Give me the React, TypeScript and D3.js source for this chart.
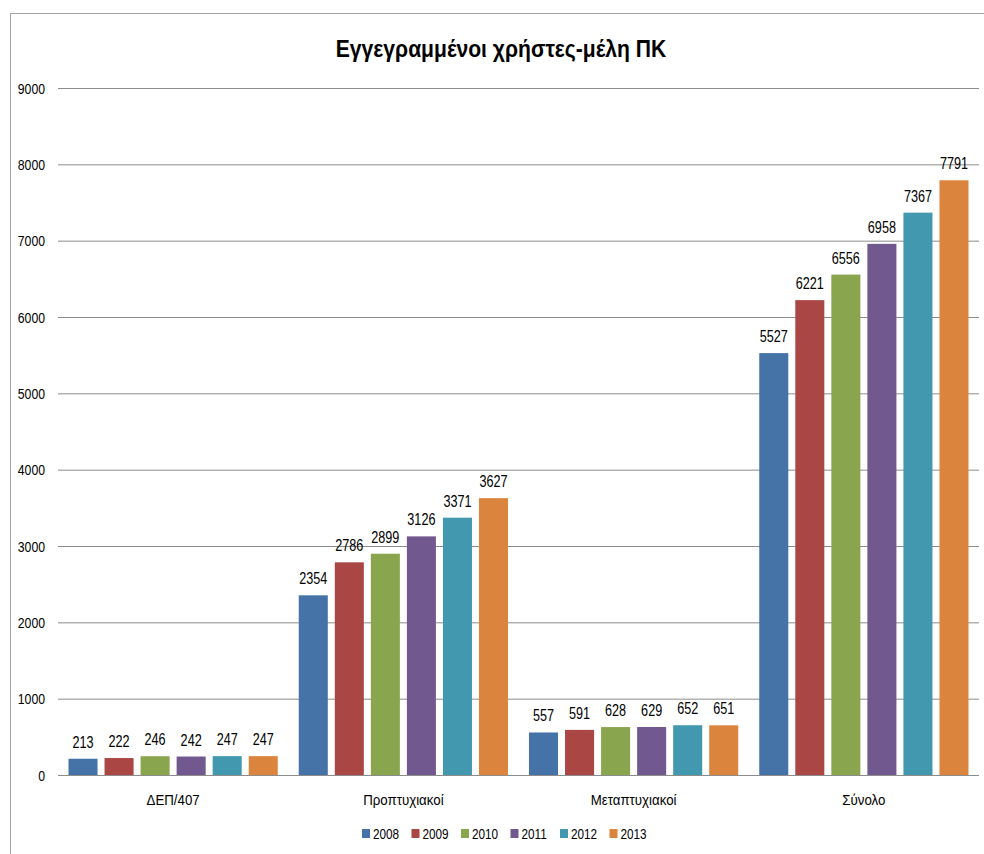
import React from "react";
import * as d3 from "d3";

const categories = ["ΔΕΠ/407", "Προπτυχιακοί", "Μεταπτυχιακοί", "Σύνολο"];
const years = ["2008", "2009", "2010", "2011", "2012", "2013"];
const colors = ["#4572A7", "#AA4643", "#89A54E", "#71588F", "#4198AF", "#DB843D"];
const v2008 = [213, 2354, 557, 5527];
const v2009 = [222, 2786, 591, 6221];
const v2010 = [246, 2899, 628, 6556];
const v2011 = [242, 3126, 629, 6958];
const v2012 = [247, 3371, 652, 7367];
const v2013 = [247, 3627, 651, 7791];
const series = [v2008, v2009, v2010, v2011, v2012, v2013];
const yTicks = [0, 1000, 2000, 3000, 4000, 5000, 6000, 7000, 8000, 9000];
const title = "Εγγεγραμμένοι χρήστες-μέλη ΠΚ";

const W = 984;
const H = 854;
const left = 58;
const right = 979;
const top = 88;
const bottom = 775;
const font = "'Liberation Sans', Arial, sans-serif";

function Txt({ x, y, sx, size, anchor = "start", weight = "normal", dy, children }: any) {
  return (
    <text
      transform={`translate(${x},${y}) scale(${sx},1)`}
      textAnchor={anchor}
      fontSize={size}
      fontWeight={weight}
      dy={dy}
      fill="#000"
    >
      {children}
    </text>
  );
}

export default function App() {
  const y = d3.scaleLinear().domain([0, 9000]).range([bottom, top]);
  const x0 = d3.scaleBand<string>().domain(categories).range([left, right]).paddingInner(0).paddingOuter(0);
  const x1 = d3
    .scaleBand<string>()
    .domain(years)
    .range([10.5, x0.bandwidth() - 10.5])
    .paddingInner(7 / 36)
    .paddingOuter(0);

  const legendItemW = 49.5;
  const legendStart = 362;

  return (
    <svg width={W} height={H} style={{ position: "absolute", left: 0, top: 0, background: "#fff" }} fontFamily={font}>
      <rect x={10.5} y={13.5} width={W} height={H} fill="none" stroke="#a6a6a6" strokeWidth={1} />
      <Txt x={501} y={57} sx={0.88} size={24} anchor="middle" weight="bold">{title}</Txt>
      {yTicks.map((t) => (
        <g key={t}>
          <line x1={left} x2={right} y1={y(t) + 0.5} y2={y(t) + 0.5} stroke="#8c8c8c" strokeWidth={1} />
          <Txt x={45} y={y(t)} sx={0.79} size={15.5} anchor="end" dy="0.36em">{t}</Txt>
        </g>
      ))}
      {categories.map((c, ci) => (
        <g key={c} transform={`translate(${x0(c)},0)`}>
          {years.map((yr, si) => {
            const v = series[si][ci];
            const bx = x1(yr)!;
            const bw = x1.bandwidth();
            return (
              <g key={yr}>
                <rect x={bx} y={y(v)} width={bw} height={bottom - y(v)} fill={colors[si]} />
                <Txt x={bx + bw / 2} y={y(v) - 11} sx={0.79} size={16} anchor="middle">{v}</Txt>
              </g>
            );
          })}
          <Txt x={x0.bandwidth() / 2} y={805} sx={0.95} size={14} anchor="middle">{c}</Txt>
        </g>
      ))}
      {years.map((yr, i) => (
        <g key={yr} transform={`translate(${legendStart + i * legendItemW},0)`}>
          <rect x={0} y={829} width={8} height={9} fill={colors[i]} />
          <Txt x={11} y={838.5} sx={0.84} size={14}>{yr}</Txt>
        </g>
      ))}
    </svg>
  );
}
